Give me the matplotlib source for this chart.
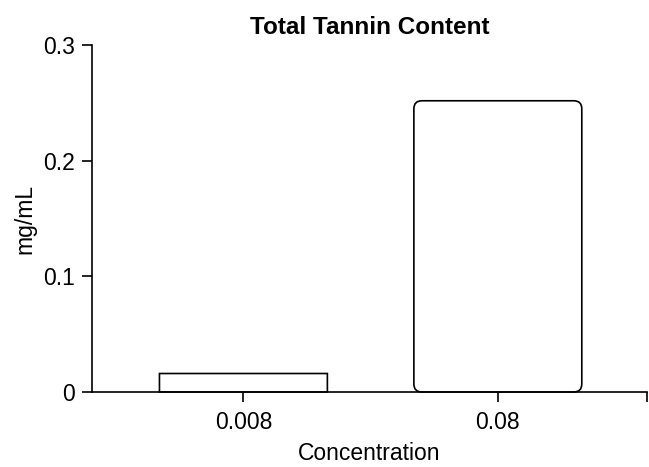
import matplotlib
matplotlib.use("Agg")
import matplotlib.pyplot as plt
from matplotlib.patches import FancyBboxPatch
from matplotlib.ticker import FuncFormatter

plt.rcParams['font.family'] = ['Liberation Sans', 'DejaVu Sans']

categories = ["0.008", "0.08"]
values = [0.016, 0.252]

fig = plt.figure(figsize=(6.49, 4.67), dpi=100)
ax = fig.add_axes([0.1418, 0.1606, 0.855, 0.7424])

x = list(range(len(categories)))
bars = ax.bar(x, values, width=0.66, color="white", edgecolor="black", linewidth=1.2)

ax.set_xlim(-0.595, 1.586)
ax.set_ylim(0, 0.3)
ax.set_yticks([0, 0.1, 0.2, 0.3])
ax.yaxis.set_major_formatter(FuncFormatter(lambda v, p: "0" if v == 0 else f"{v:g}"))
ax.set_xticks(x)
ax.set_xticklabels(categories)
ax.set_xticks([1.586], minor=True)
ax.tick_params(axis="both", which="both", direction="out", length=7, width=1.2, labelsize=16.5)
ax.tick_params(axis="y", which="major", pad=5)
ax.tick_params(axis="x", which="major", pad=6.5)

for s in ["top", "right"]:
    ax.spines[s].set_visible(False)
for s in ["left", "bottom"]:
    ax.spines[s].set_linewidth(1.2)

# rounded corners: radius in pixels, converted to data units
fig.canvas.draw()
p0 = ax.transData.transform((0, 0))
p1 = ax.transData.transform((1, 1))
px_x = p1[0] - p0[0]
px_y = p1[1] - p0[1]
radius_px = 8
for b in bars:
    bx, by = b.get_xy()
    w, h = b.get_width(), b.get_height()
    r = radius_px / px_x if h * px_y > 3 * radius_px else 0.0
    fb = FancyBboxPatch((bx, by), w, h,
                        boxstyle=f"round,pad=0,rounding_size={r}",
                        mutation_aspect=px_x / px_y,
                        facecolor="white", edgecolor="black", linewidth=1.2,
                        clip_on=False, zorder=1.5)
    ax.add_patch(fb)
    b.set_visible(False)

ax.set_title("Total Tannin Content", fontsize=17.5, fontweight="bold", pad=8)
ax.set_xlabel("Concentration", fontsize=16.5, labelpad=6)
ax.set_ylabel("mg/mL", fontsize=16.5, labelpad=5)

fig.savefig("out.png", dpi=100)
